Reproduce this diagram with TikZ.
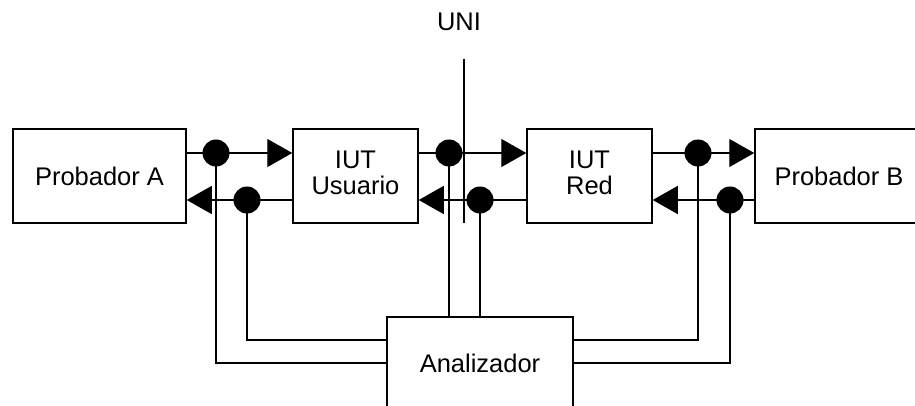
\documentclass[tikz,border=0pt]{standalone}
\usepackage{fontspec}
\setmainfont{Liberation Sans}
\usetikzlibrary{arrows.meta}
\begin{document}
\begin{tikzpicture}[x=1pt,y=-1pt,
  box/.style={draw,line width=1.5pt,inner sep=0pt,align=center,
    font=\fontsize{25.5}{28.5}\selectfont},
  dotn/.style={circle,fill=black,inner sep=0pt,minimum size=27pt},
  wire/.style={line width=1.3pt},
  arr/.style={wire,-{Triangle[length=25pt,width=28pt]}},
  lbl/.style={inner sep=0pt,font=\fontsize{25.5}{28.5}\selectfont}]
\useasboundingbox (0,0) rectangle (915,406);
\clip (0,0) rectangle (915,406);
% boxes
\node[box,minimum width=173pt,minimum height=94pt] (pa) at (99.5,176) {Probador A};
\node[box,minimum width=125pt,minimum height=94pt] (iu) at (355.5,176) {\raisebox{4pt}{\begin{tabular}{@{}c@{}}IUT\\[-2pt]Usuario\end{tabular}}};
\node[box,minimum width=125pt,minimum height=94pt] (ir) at (589.5,176) {\raisebox{4pt}{\begin{tabular}{@{}c@{}}IUT\\[-2pt]Red\end{tabular}}};
\node[box,minimum width=168pt,minimum height=94pt] (pb) at (839,176) {Probador B};
\node[box,minimum width=186pt,minimum height=92pt] (an) at (480,363) {Analizador};
% UNI
\node[lbl] (uni) at (459,22) {UNI};
\coordinate (unitop) at (464,59);
\coordinate (unibot) at (464,223);
\draw[wire] (unitop) -- (unibot);
% forward and backward lines
\draw[arr] ([yshift=23pt]pa.east) -- ([yshift=23pt]iu.west);
\draw[arr] ([yshift=23pt]iu.east) -- ([yshift=23pt]ir.west);
\draw[arr] ([yshift=23pt]ir.east) -- ([yshift=23pt]pb.west);
\draw[arr] ([yshift=-24pt]iu.west) -- ([yshift=-24pt]pa.east);
\draw[arr] ([yshift=-24pt]ir.west) -- ([yshift=-24pt]iu.east);
\draw[arr] ([yshift=-24pt]pb.west) -- ([yshift=-24pt]ir.east);
% dots
\node[dotn] (d1) at (216,153) {};
\node[dotn] (d2) at (247,200) {};
\node[dotn] (d3) at (449,153) {};
\node[dotn] (d4) at (480,200) {};
\node[dotn] (d5) at (698,153) {};
\node[dotn] (d6) at (730,200) {};
% analyzer connections
\draw[wire] (an.west) -| (d1.center);
\draw[wire] ([yshift=23pt]an.west) -| (d2.center);
\draw[wire] (d3.center) -- (d3 |- an.north);
\draw[wire] (d4.center) -- (d4 |- an.north);
\draw[wire] ([yshift=23pt]an.east) -| (d5.center);
\draw[wire] (an.east) -| (d6.center);
\end{tikzpicture}
\end{document}
